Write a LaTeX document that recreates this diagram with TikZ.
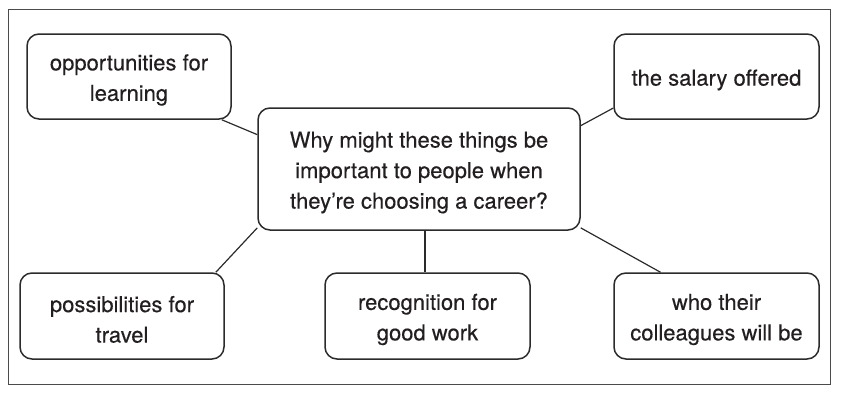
\documentclass[tikz,border=0pt]{standalone}
\usepackage{fontspec}
\setmainfont{TeX Gyre Heros}
\newfontfamily\boxfont[FakeBold=0.3]{TeX Gyre Heros}
\newcommand\toppad{\rule{0pt}{23pt}}
\definecolor{ink}{HTML}{231F20}
\definecolor{edge}{HTML}{2B2B2B}
\begin{document}
\begin{tikzpicture}[x=1pt,y=-1pt,
  box/.style={draw=edge, line width=1.5pt, rounded corners=12pt, inner sep=0pt,
    align=center, text=ink, font=\boxfont\fontsize{22}{30.5}\selectfont},
  link/.style={draw=edge, line width=1.2pt},
  frame/.style={draw=edge!85, line width=1pt}]
\useasboundingbox (0,0) rectangle (847,400);
\path[frame] (8,9.5) rectangle (830,384.5);
\node[box, minimum width=322pt, minimum height=122pt] (c) at (419,169)
  {\toppad Why might these things be\\important to people when\\they’re choosing a career?};
\node[box, minimum width=204pt, minimum height=85pt] (opp) at (129,76.5)
  {\toppad opportunities for\\learning};
\node[box, minimum width=205pt, minimum height=85pt] (sal) at (716.5,76.5)
  {\toppad the salary offered};
\node[box, minimum width=204pt, minimum height=86pt] (pos) at (122,316)
  {\toppad possibilities for\\travel};
\node[box, minimum width=205pt, minimum height=86pt] (rec) at (427.5,316)
  {\toppad recognition for\\good work};
\node[box, minimum width=205pt, minimum height=86pt] (col) at (716.5,316)
  {\toppad who their\\colleagues will be};
\draw[link] (opp.335) -- (c.168);
\draw[link] (sal.197.6) -- (c.15);
\draw[link] (pos.25.3) -- (c.200.3);
\draw[link] ([xshift=-2.5pt]rec.north) -- ([xshift=-2.5pt]rec.north |- c.south);
\draw[link] (col.142.2) -- (c.340.6);
\end{tikzpicture}
\end{document}
